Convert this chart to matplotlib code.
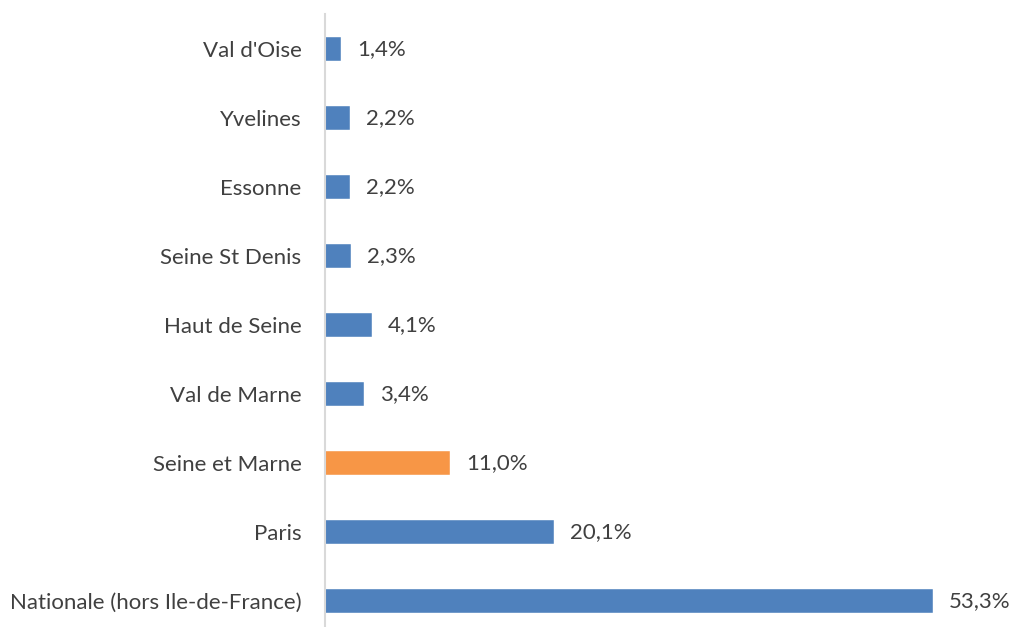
import matplotlib.pyplot as plt

# Data (bottom to top)
categories = [
    "Nationale (hors Ile-de-France)",
    "Paris",
    "Seine et Marne",
    "Val de Marne",
    "Haut de Seine",
    "Seine St Denis",
    "Essonne",
    "Yvelines",
    "Val d'Oise",
]
values = [53.3, 20.1, 11.0, 3.4, 4.1, 2.3, 2.2, 2.2, 1.4]
highlight = "Seine et Marne"

blue = "#4F81BD"
orange = "#F79646"
text_color = "#404040"

plt.rcParams["font.family"] = ["Lato", "DejaVu Sans"]

fig = plt.figure(figsize=(10.10, 6.27), dpi=100)
ax = fig.add_axes([325 / 1010, 0, 684 / 1010, 613 / 627])

colors = [orange if c == highlight else blue for c in categories]
ypos = range(len(categories))
ax.barh(ypos, values, height=0.35, color=colors, edgecolor="#FFFFFF", linewidth=0.3)

for y, v in zip(ypos, values):
    ax.annotate(f"{v:.1f}%".replace(".", ","), xy=(v, y), xytext=(11.5, 0),
                textcoords="offset points", va="center", ha="left",
                fontsize=16, color=text_color)

ax.set_yticks(list(ypos))
ax.set_yticklabels(categories, fontsize=16, color=text_color)
ax.tick_params(axis="y", length=0, pad=17)
ax.set_xticks([])
ax.set_xlim(0, 60)
ax.set_ylim(-0.377, 8.507)

for side in ["top", "right", "bottom"]:
    ax.spines[side].set_visible(False)
ax.spines["left"].set_color("#D9D9D9")
ax.spines["left"].set_linewidth(1.5)

fig.savefig("out.png", dpi=100)
